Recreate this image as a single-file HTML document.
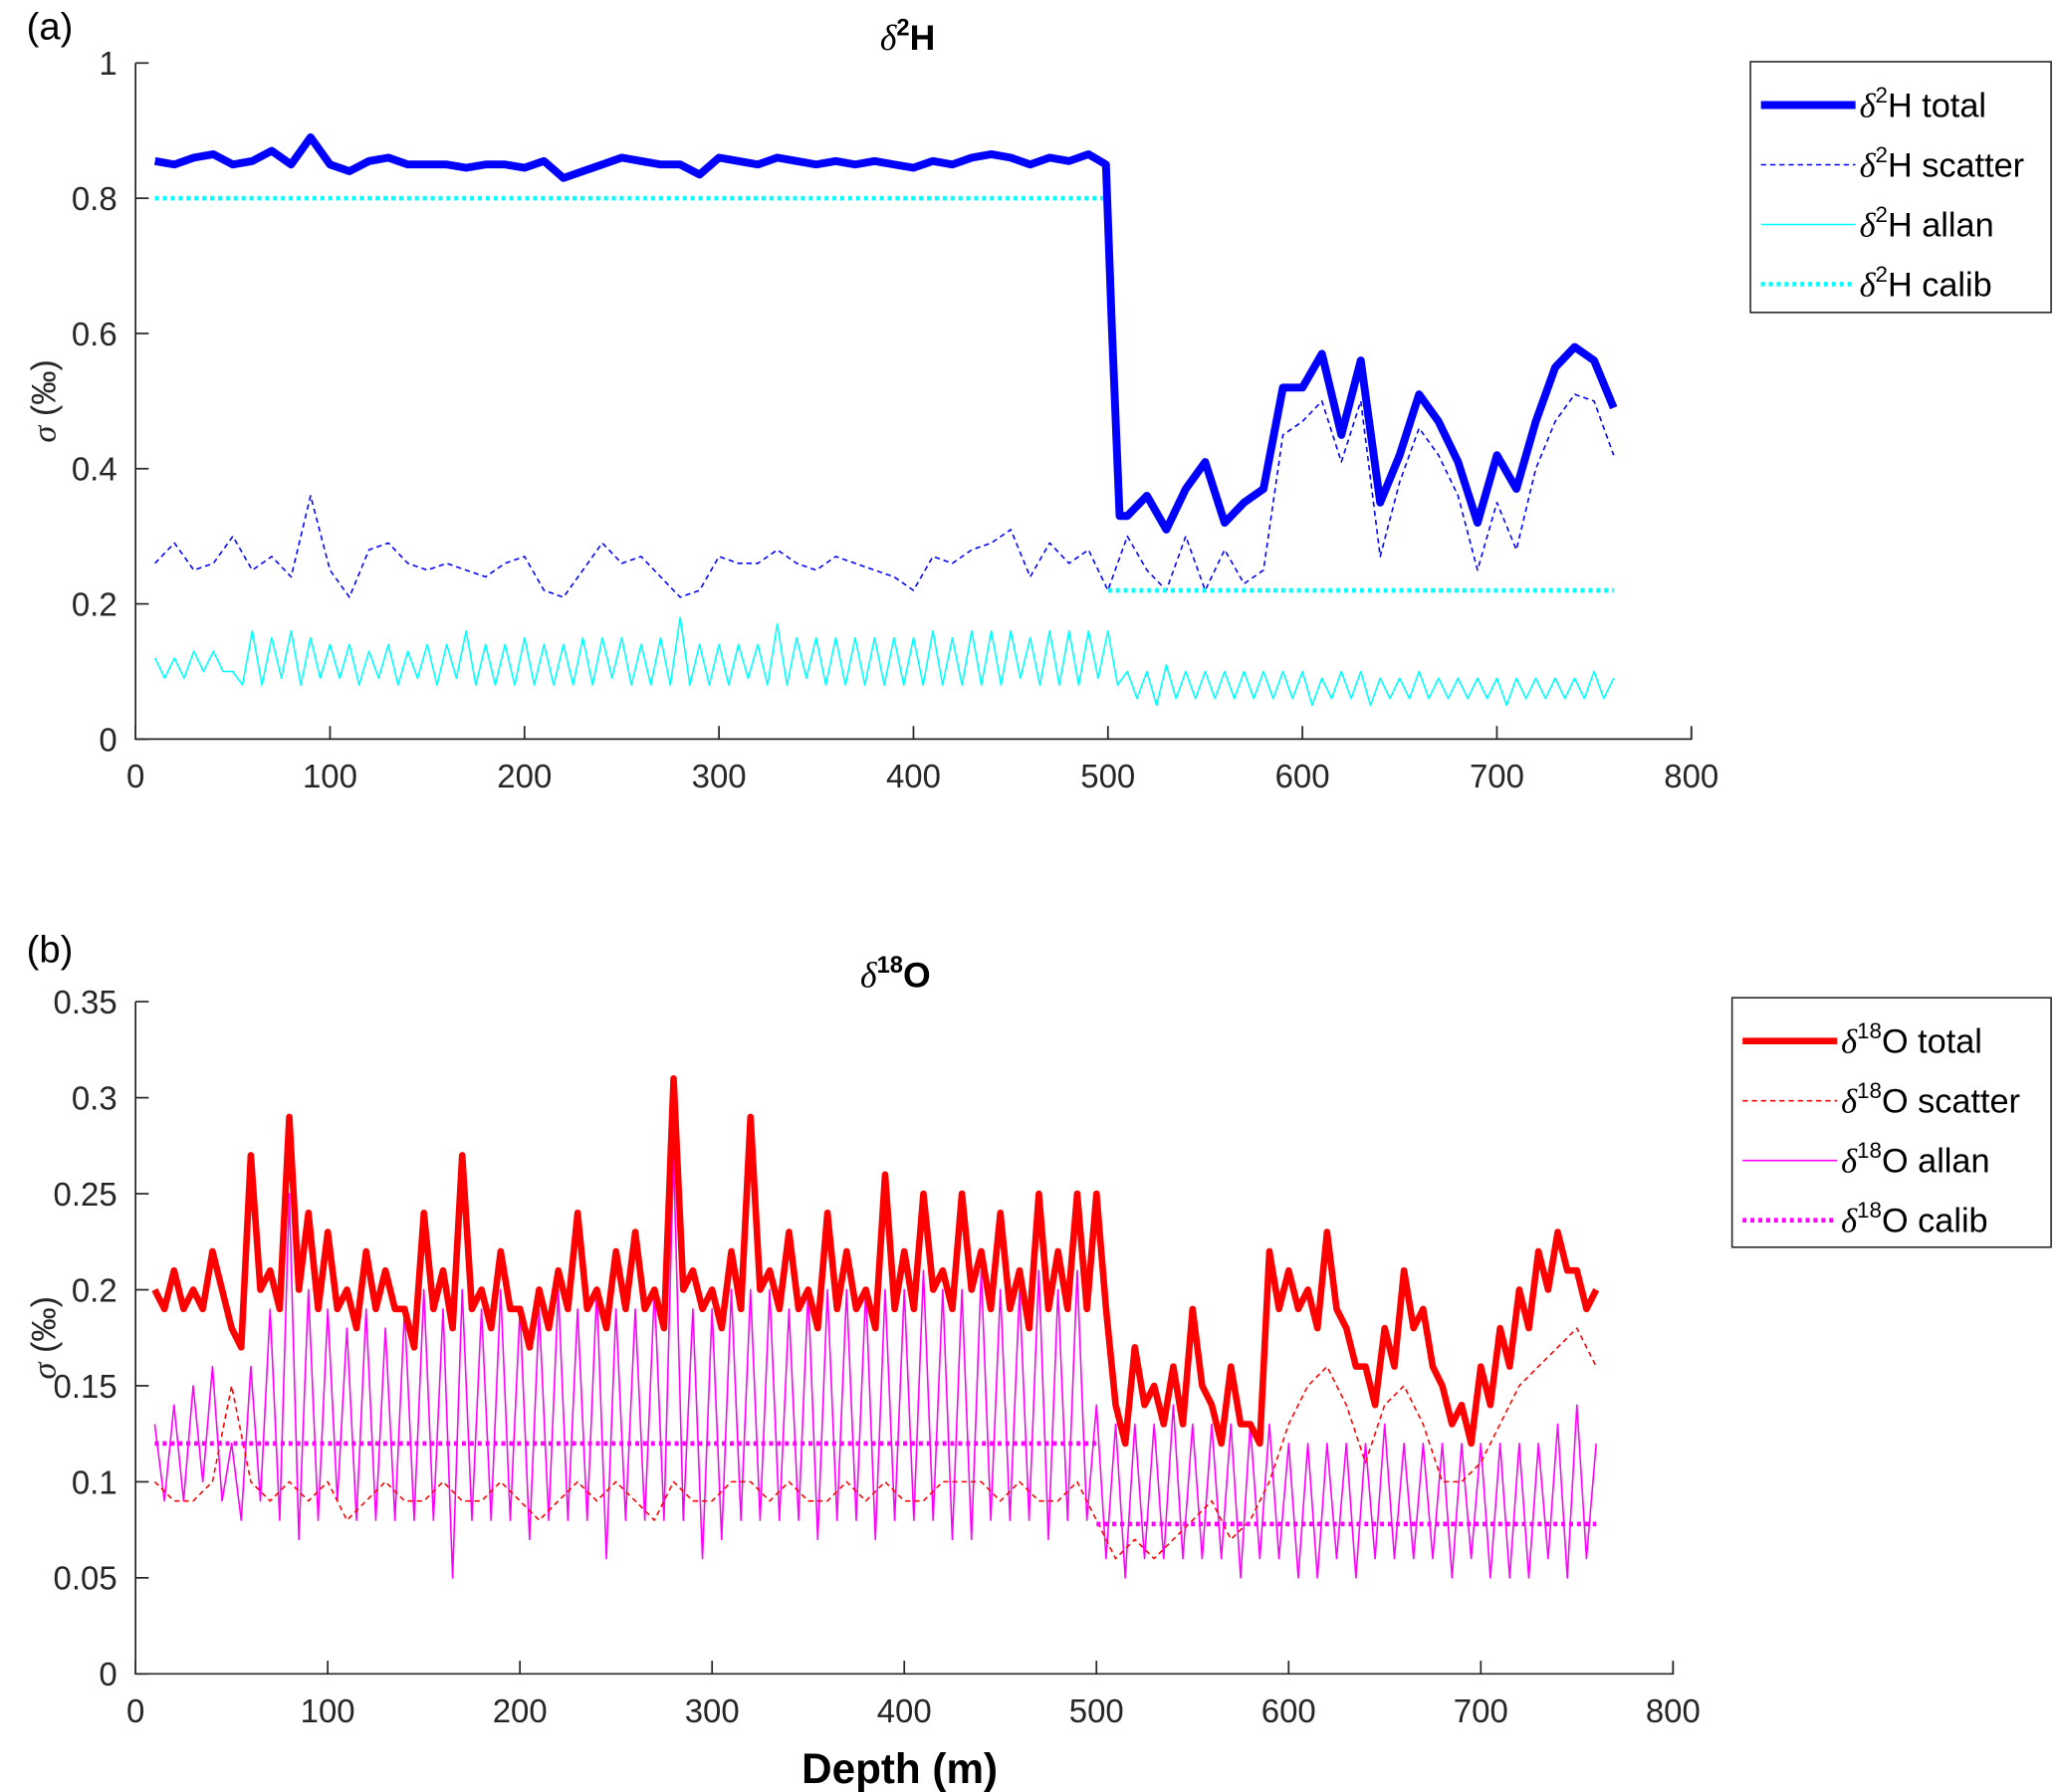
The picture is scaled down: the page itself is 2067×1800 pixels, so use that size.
<!DOCTYPE html>
<html><head><meta charset="utf-8"><style>
body{margin:0;background:#fff}
svg{display:block;font-family:"Liberation Sans",Arial,sans-serif}
</style></head><body>
<svg id="chart" width="2067" height="1800" viewBox="0 0 1567 1365" xmlns="http://www.w3.org/2000/svg">
<rect width="1567" height="1365" fill="#fff"/>
<g id="pa"></g>
<g id="pb"></g>
</svg>
<script>
// ---------- data (depth grid 10..760 step 10) ----------
const depthTicks=[0,100,200,300,400,500,600,700,800];
const yTicksA=[0,0.2,0.4,0.6,0.8,1];
const yTickLabelsA=["0","0.2","0.4","0.6","0.8","1"];
const yTicksB=[0,0.05,0.1,0.15,0.2,0.25,0.3,0.35];
const yTickLabelsB=["0","0.05","0.1","0.15","0.2","0.25","0.3","0.35"];

const hTotalDepth=[10,20,30,40,50,60,70,80,90,100,110,120,130,140,150,160,170,180,190,200,210,220,230,240,250,260,270,280,290,300,310,320,330,340,350,360,370,380,390,400,410,420,430,440,450,460,470,480,490,499,502,506,510,520,530,540,550,560,570,580,590,600,610,620,630,640,650,660,670,680,690,700,710,720,730,740,750,760];
const hTotal=[0.855,0.85,0.86,0.865,0.85,0.855,0.87,0.85,0.89,0.85,0.84,0.855,0.86,0.85,0.85,0.85,0.845,0.85,0.85,0.845,0.855,0.83,0.84,0.85,0.86,0.855,0.85,0.85,0.835,0.86,0.855,0.85,0.86,0.855,0.85,0.855,0.85,0.855,0.85,0.845,0.855,0.85,0.86,0.865,0.86,0.85,0.86,0.855,0.865,0.85,0.61,0.33,0.33,0.36,0.31,0.37,0.41,0.32,0.35,0.37,0.52,0.52,0.57,0.45,0.56,0.35,0.42,0.51,0.47,0.41,0.32,0.42,0.37,0.47,0.55,0.58,0.56,0.49];

const hScatter=[0.26,0.29,0.25,0.26,0.3,0.25,0.27,0.24,0.36,0.25,0.21,0.28,0.29,0.26,0.25,0.26,0.25,0.24,0.26,0.27,0.22,0.21,0.25,0.29,0.26,0.27,0.24,0.21,0.22,0.27,0.26,0.26,0.28,0.26,0.25,0.27,0.26,0.25,0.24,0.22,0.27,0.26,0.28,0.29,0.31,0.24,0.29,0.26,0.28,0.22,0.3,0.25,0.22,0.3,0.22,0.28,0.23,0.25,0.45,0.47,0.5,0.41,0.5,0.27,0.38,0.46,0.42,0.36,0.25,0.35,0.28,0.4,0.47,0.51,0.5,0.42];
const hAllanHi=[0.12,0.12,0.13,0.13,0.1,0.16,0.15,0.16,0.15,0.14,0.14,0.13,0.14,0.13,0.14,0.14,0.16,0.14,0.14,0.15,0.14,0.14,0.15,0.15,0.15,0.14,0.15,0.18,0.14,0.14,0.14,0.14,0.17,0.15,0.15,0.15,0.15,0.15,0.15,0.15,0.16,0.15,0.16,0.16,0.16,0.15,0.16,0.16,0.16,0.16,0.1,0.1,0.11,0.1,0.1,0.1,0.1,0.1,0.1,0.1,0.09,0.1,0.1,0.09,0.09,0.1,0.09,0.09,0.09,0.09,0.09,0.09,0.09,0.09,0.1,0.09];
const hAllanLo=[0.09,0.09,0.1,0.1,0.08,0.08,0.09,0.08,0.09,0.09,0.08,0.09,0.08,0.09,0.08,0.09,0.08,0.08,0.08,0.08,0.08,0.08,0.08,0.09,0.08,0.08,0.08,0.08,0.08,0.08,0.09,0.08,0.08,0.09,0.08,0.08,0.08,0.08,0.08,0.08,0.08,0.08,0.08,0.08,0.09,0.08,0.08,0.08,0.09,0.08,0.06,0.05,0.06,0.06,0.06,0.06,0.06,0.06,0.06,0.05,0.06,0.06,0.05,0.06,0.06,0.06,0.06,0.06,0.06,0.05,0.06,0.06,0.06,0.06,0.06,0.06];
const hCalibDepth=[10,500,500,500,760];
const hCalib=[0.8,0.8,null,0.22,0.22];

const oTotal=[0.2,0.21,0.2,0.22,0.18,0.27,0.21,0.29,0.24,0.23,0.2,0.22,0.21,0.19,0.24,0.21,0.27,0.2,0.22,0.19,0.2,0.21,0.24,0.2,0.22,0.23,0.2,0.31,0.21,0.2,0.22,0.29,0.21,0.23,0.2,0.24,0.22,0.2,0.26,0.22,0.25,0.21,0.25,0.22,0.24,0.21,0.25,0.22,0.25,0.25,0.14,0.17,0.15,0.16,0.19,0.14,0.16,0.13,0.22,0.21,0.2,0.23,0.18,0.16,0.18,0.21,0.19,0.15,0.14,0.16,0.18,0.2,0.22,0.23,0.21,0.2];
const oTotalLo=[0.19,0.19,0.19,0.2,0.17,0.2,0.19,0.2,0.19,0.19,0.18,0.19,0.19,0.17,0.19,0.18,0.19,0.18,0.19,0.17,0.18,0.19,0.19,0.18,0.19,0.19,0.18,0.2,0.19,0.18,0.19,0.2,0.19,0.19,0.18,0.19,0.19,0.18,0.19,0.19,0.2,0.19,0.2,0.19,0.19,0.18,0.19,0.19,0.19,0.19,0.12,0.14,0.13,0.13,0.15,0.12,0.13,0.12,0.19,0.19,0.18,0.19,0.16,0.14,0.16,0.18,0.16,0.13,0.12,0.14,0.16,0.18,0.2,0.21,0.19,0.19];
const oScatter=[0.1,0.09,0.09,0.1,0.15,0.1,0.09,0.1,0.09,0.1,0.08,0.09,0.1,0.09,0.09,0.1,0.09,0.09,0.1,0.09,0.08,0.09,0.1,0.09,0.1,0.09,0.08,0.1,0.09,0.09,0.1,0.1,0.09,0.1,0.09,0.09,0.1,0.09,0.1,0.09,0.09,0.1,0.1,0.1,0.09,0.1,0.09,0.09,0.1,0.08,0.06,0.07,0.06,0.07,0.08,0.09,0.07,0.08,0.1,0.13,0.15,0.16,0.14,0.11,0.14,0.15,0.13,0.1,0.1,0.11,0.13,0.15,0.16,0.17,0.18,0.16];
const oAllanHi=[0.13,0.14,0.15,0.16,0.12,0.16,0.19,0.25,0.2,0.19,0.18,0.19,0.18,0.19,0.2,0.19,0.2,0.19,0.2,0.19,0.19,0.2,0.19,0.2,0.19,0.19,0.2,0.27,0.19,0.19,0.2,0.2,0.2,0.19,0.2,0.2,0.2,0.2,0.2,0.2,0.21,0.2,0.2,0.21,0.2,0.2,0.21,0.2,0.21,0.14,0.13,0.13,0.13,0.14,0.13,0.13,0.13,0.13,0.13,0.12,0.12,0.12,0.12,0.12,0.13,0.12,0.12,0.12,0.12,0.12,0.12,0.12,0.12,0.13,0.14,0.12];
const oAllanLo=[0.09,0.09,0.1,0.09,0.08,0.09,0.08,0.07,0.08,0.09,0.08,0.08,0.08,0.08,0.08,0.05,0.08,0.08,0.08,0.07,0.08,0.08,0.08,0.06,0.08,0.08,0.08,0.08,0.06,0.07,0.08,0.08,0.08,0.08,0.07,0.08,0.08,0.07,0.08,0.08,0.08,0.07,0.07,0.08,0.08,0.08,0.07,0.08,0.08,0.06,0.05,0.06,0.06,0.06,0.06,0.06,0.05,0.06,0.06,0.05,0.05,0.06,0.05,0.06,0.06,0.06,0.06,0.05,0.06,0.05,0.05,0.05,0.06,0.05,0.06,0.05];
const oCalibDepth=[10,500,500,500,760];
const oCalib=[0.12,0.12,null,0.078,0.078];

// ---------- helpers ----------
const NS="http://www.w3.org/2000/svg";
const grid=hScatter.map((_,i)=>10+10*i);
function el(tag,attrs,parent,txt){const e=document.createElementNS(NS,tag);for(const k in attrs)e.setAttribute(k,attrs[k]);if(txt!==undefined)e.textContent=txt;parent.appendChild(e);return e;}
function mkScale(d0,d1,r0,r1){return v=>r0+(v-d0)/(d1-d0)*(r1-r0);}
function interleave(hi,lo){const d=[],v=[];hi.forEach((h,i)=>{d.push(grid[i]);v.push(h);if(i<hi.length-1){d.push(grid[i]+5);v.push(lo[i]);}});return [d,v];}

function drawPanel(g,cfg){
  const xs=mkScale(0,800,cfg.x0,cfg.x1), ys=mkScale(0,cfg.ymax,cfg.y0,cfg.y1);
  const ax=el('g',{},g);
  
  
  el('path',{d:`M${cfg.x0},${cfg.y1}V${cfg.y0}H${cfg.x1}V${cfg.y0-8}`,fill:'none',stroke:'#262626','stroke-width':1.3},ax);
  depthTicks.forEach(t=>{
    const x=xs(t);
    el('line',{x1:x,x2:x,y1:cfg.y0,y2:cfg.y0-10,stroke:'#262626','stroke-width':1.3},ax);
    const tl=el('text',{x:x,y:cfg.y0+37,'text-anchor':'middle','font-size':25,fill:'#262626'},ax,String(t));
    
    
  });
  cfg.yt.forEach((t,i)=>{
    const y=ys(t);
    el('line',{x1:cfg.x0,x2:cfg.x0+10,y1:y,y2:y,stroke:'#262626','stroke-width':1.3},ax);
    const tl=el('text',{x:cfg.x0-14,y:y+9,'text-anchor':'end','font-size':25,fill:'#262626'},ax,cfg.ytl[i]);
    
    
  });
  const yl=el('text',{transform:`translate(42,${(cfg.y0+cfg.y1)/2}) rotate(-90)`,'text-anchor':'middle','font-size':26,fill:'#262626'},g);
  
  
  el('tspan',{'font-style':'italic','font-family':'"Liberation Serif",serif'},yl,'σ');
  el('tspan',{},yl,' (‰)');
  cfg.series.forEach(s=>{
    let d='',pen=false;
    s.d.forEach((dd,i)=>{
      const v=s.v[i];
      if(v===null){pen=false;return;}
      d+=(pen?'L':'M')+xs(dd).toFixed(1)+','+ys(v).toFixed(1);
      pen=true;
    });
    const p=el('path',{d:d,fill:'none',stroke:s.c,'stroke-width':s.w,'stroke-dasharray':s.dash||'none','stroke-linejoin':'round'},g);
    
    
  });
}

const pa=document.getElementById('pa'), pb=document.getElementById('pb');
const [haD,haV]=interleave(hAllanHi,hAllanLo);
drawPanel(pa,{x0:103,x1:1288,y0:563,y1:48,ymax:1,yt:yTicksA,ytl:yTickLabelsA,series:[
 {name:'h-allan-line',d:haD,v:haV,c:'#00ffff',w:1.2},
 {name:'h-scatter-line',d:grid,v:hScatter,c:'#0000ff',w:1.2,dash:'4 3'},
 {name:'h-calib-line',d:hCalibDepth,v:hCalib,c:'#00ffff',w:3.5,dash:'3 3'},
 {name:'h-total-line',d:hTotalDepth,v:hTotal,c:'#0000ff',w:6}
]});
const [oaD,oaV]=interleave(oAllanHi,oAllanLo);
const [otD,otV]=interleave(oTotal,oTotalLo);
drawPanel(pb,{x0:103,x1:1274,y0:1275,y1:763,ymax:0.35,yt:yTicksB,ytl:yTickLabelsB,series:[
 {name:'o-allan-line',d:oaD,v:oaV,c:'#ff00ff',w:1.2},
 {name:'o-scatter-line',d:grid,v:oScatter,c:'#ff0000',w:1.2,dash:'4 3'},
 {name:'o-calib-line',d:oCalibDepth,v:oCalib,c:'#ff00ff',w:3.5,dash:'3 3'},
 {name:'o-total-line',d:otD,v:otV,c:'#ff0000',w:5}
]});

// titles & labels
function txt(parent,name,x,y,size,weight,parts,anchor){
  const t=el('text',{x:x,y:y,'font-size':size,'font-weight':weight||'normal','text-anchor':anchor||'start',fill:'#000'},parent);
  
  
  parts.forEach(p=>{el('tspan',p.a||{},t,p.t);});
  return t;
}
const svg=document.getElementById('chart');
txt(svg,'panel-a-label',20,30,29,'normal',[{t:'(a)'}]);
txt(svg,'panel-b-label',20,733,29,'normal',[{t:'(b)'}]);
txt(svg,'panel-a-title',670,38,27,'bold',[{t:'δ',a:{'font-style':'italic','font-family':'"Liberation Serif",serif','font-weight':'normal'}},{t:'2',a:{'font-size':18,dy:-11}},{t:'H',a:{dy:11}}]);
txt(svg,'panel-b-title',655,752,27,'bold',[{t:'δ',a:{'font-style':'italic','font-family':'"Liberation Serif",serif','font-weight':'normal'}},{t:'18',a:{'font-size':18,dy:-11}},{t:'O',a:{dy:11}}]);
txt(svg,'x-axis-title',685,1358,32,'bold',[{t:'Depth (m)'}],'middle');

function legend(x,y,w,h,iso,entries){
  const g=el('g',{},svg);
  
  
  el('rect',{x:x,y:y,width:w,height:h,fill:'#fff',stroke:'#262626','stroke-width':1.2},g);
  entries.forEach((e,i)=>{
    const cy=y+33+i*45.5;
    const ln=el('line',{x1:x+8,x2:x+80,y1:cy,y2:cy,stroke:e.c,'stroke-width':e.w,'stroke-dasharray':e.dash||'none'},g);
    
    
    const t=el('text',{x:x+83,y:cy+9,'font-size':26,fill:'#000'},g);
    
    
    el('tspan',{'font-style':'italic','font-family':'"Liberation Serif",serif'},t,'δ');
    el('tspan',{'font-size':17,dy:-11},t,iso[0]);
    el('tspan',{dy:11},t,iso[1]+' '+e.label);
  });
}
legend(1333,47,229,191,['2','H'],[
 {label:'total',c:'#0000ff',w:6},{label:'scatter',c:'#0000ff',w:1.2,dash:'4 3'},
 {label:'allan',c:'#00ffff',w:1.2},{label:'calib',c:'#00ffff',w:3.5,dash:'3 3'}]);
legend(1319,760,243,190,['18','O'],[
 {label:'total',c:'#ff0000',w:5},{label:'scatter',c:'#ff0000',w:1.2,dash:'4 3'},
 {label:'allan',c:'#ff00ff',w:1.2},{label:'calib',c:'#ff00ff',w:3.5,dash:'3 3'}]);
</script>
</body></html>
